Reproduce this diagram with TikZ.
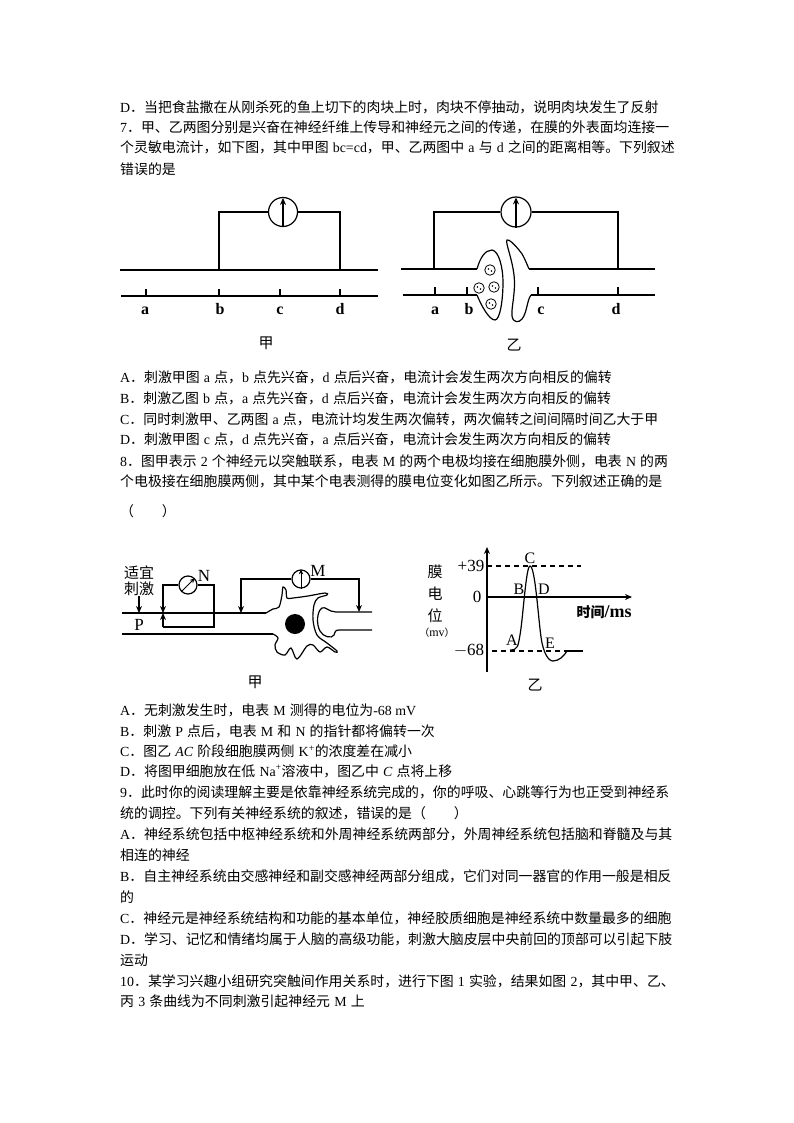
\documentclass[tikz,border=0pt]{standalone}
\usepackage{fontspec}
\setmainfont{Noto Sans CJK SC}
\newfontfamily\lat{Liberation Serif}
\newcommand{\la}[1]{{\lat #1}}
\newcommand{\sk}{\hspace{.3em}}
\usetikzlibrary{positioning,arrows.meta}

\begin{document}
\begin{tikzpicture}[
    x=1pt,y=-1pt,
    txtline/.style={anchor=west,inner sep=0pt,font=\fontsize{13.9}{14}\selectfont},
    lbl/.style={inner sep=0pt,font=\fontsize{15}{15}\selectfont},
    pt/.style={anchor=base,inner sep=0pt,font=\lat\bfseries\fontsize{16}{16}\selectfont},
    big/.style={inner sep=0pt,font=\lat\fontsize{17}{17}\selectfont},
    pnt/.style={inner sep=0pt,font=\lat\fontsize{16}{16}\selectfont},
    meter/.style={circle,draw,line width=1.2pt,inner sep=0pt,minimum size=#1},
    wire/.style={line width=1.2pt},
    axon/.style={line width=1.8pt},
    probe/.style={line width=1.2pt,-{Stealth[length=7pt,width=6pt]}},
    needle/.style={line width=.9pt,-{Stealth[length=5pt,width=4.5pt]}},
    refline/.style={line width=1.2pt,dash pattern=on 5pt off 4pt},
    vesicle/.style={circle,draw,line width=.8pt,minimum size=10.5pt,inner sep=0pt},
    grain/.style={circle,fill,inner sep=0pt,minimum size=1.8pt},
  ]
  \useasboundingbox (0,0) rectangle (794,1123);
  % the printed lines
  \foreach \y/\txt in {
      107/{\la{D}．当把食盐撒在从刚杀死的鱼上切下的肉块上时，肉块不停抽动，说明肉块发生了反射},
      127/{\la{7}．甲、乙两图分别是兴奋在神经纤维上传导和神经元之间的传递，在膜的外表面均连接一},
      147/{个灵敏电流计，如下图，其中甲图\sk\la{bc=cd}，甲、乙两图中\sk\la{a}\sk 与\sk\la{d}\sk 之间的距离相等。下列叙述},
      169/{错误的是},
      377/{\la{A}．刺激甲图\sk\la{a}\sk 点，\la{b}\sk 点先兴奋，\la{d}\sk 点后兴奋，电流计会发生两次方向相反的偏转},
      398/{\la{B}．刺激乙图\sk\la{b}\sk 点，\la{a}\sk 点先兴奋，\la{d}\sk 点后兴奋，电流计会发生两次方向相反的偏转},
      419/{\la{C}．同时刺激甲、乙两图\sk\la{a}\sk 点，电流计均发生两次偏转，两次偏转之间间隔时间乙大于甲},
      439/{\la{D}．刺激甲图\sk\la{c}\sk 点，\la{d}\sk 点先兴奋，\la{a}\sk 点后兴奋，电流计会发生两次方向相反的偏转},
      461/{\la{8}．图甲表示\sk\la{2}\sk 个神经元以突触联系，电表\sk\la{M}\sk 的两个电极均接在细胞膜外侧，电表\sk\la{N}\sk 的两},
      481/{个电极接在细胞膜两侧，其中某个电表测得的膜电位变化如图乙所示。下列叙述正确的是},
      511/{（\hspace{2em}）},
      710/{\la{A}．无刺激发生时，电表\sk\la{M}\sk 测得的电位为\la{-68 mV}},
      731/{\la{B}．刺激\sk\la{P}\sk 点后，电表\sk\la{M}\sk 和\sk\la{N}\sk 的指针都将偏转一次},
      751/{\la{C}．图乙\sk\la{\itshape AC}\sk 阶段细胞膜两侧\sk\la{K\textsuperscript{+}}的浓度差在减小},
      771/{\la{D}．将图甲细胞放在低\sk\la{Na\textsuperscript{+}}溶液中，图乙中\sk\la{\itshape C}\sk 点将上移},
      792/{\la{9}．此时你的阅读理解主要是依靠神经系统完成的，你的呼吸、心跳等行为也正受到神经系},
      813/{统的调控。下列有关神经系统的叙述，错误的是（\hspace{2em}）},
      834/{\la{A}．神经系统包括中枢神经系统和外周神经系统两部分，外周神经系统包括脑和脊髓及与其},
      855/{相连的神经},
      876/{\la{B}．自主神经系统由交感神经和副交感神经两部分组成，它们对同一器官的作用一般是相反},
      897/{的},
      918/{\la{C}．神经元是神经系统结构和功能的基本单位，神经胶质细胞是神经系统中数量最多的细胞},
      939/{\la{D}．学习、记忆和情绪均属于人脑的高级功能，刺激大脑皮层中央前回的顶部可以引起下肢},
      960/{运动},
      981/{\la{10}．某学习兴趣小组研究突触间作用关系时，进行下图\sk\la{1}\sk 实验，结果如图\sk\la{2}，其中甲、乙、},
      1001/{丙\sk\la{3}\sk 条曲线为不同刺激引起神经元\sk\la{M}\sk 上}}{
    \node[txtline] (line\y) at (120,\y) {\txt};
  }

  % first figure
  \node[meter=29pt] (g1) at (283,212) {};
  \coordinate (g1l) at (219,270);
  \coordinate (g1r) at (340,270);
  \coordinate (up1a) at (120,270);
  \coordinate (up1b) at (378,270);
  \coordinate (lo1a) at (121,296);
  \coordinate (lo1b) at (378,296);
  \draw[axon] (up1a) -- (up1b);
  \draw[wire] (lo1a) -- (lo1b);
  \draw[wire] (g1l) |- (g1.west);
  \draw[wire] (g1r) |- (g1.east);
  \draw[probe] (g1.south) -- ([yshift=-1pt]g1.north);
  \foreach \n/\x/\lx in {a/146/145,b/219/220,c/280/280,d/340/340}{
    \coordinate (t1\n) at (\x,296);
    \draw[wire] (t1\n) -- ++(0,-7);
    \node[pt] (n1\n) at (\lx,314) {\n};
  }
  \node[lbl] (cap1) at (266,343) {甲};

  % second figure
  \node[meter=30pt] (g2) at (516,212) {};
  \coordinate (g2l) at (434,269);
  \coordinate (g2r) at (618,269);
  \coordinate (up2a) at (401,269);
  \coordinate (up2b) at (477,269);
  \coordinate (up2c) at (529,269);
  \coordinate (up2d) at (655,269);
  \coordinate (lo2a) at (403,295);
  \coordinate (lo2b) at (477,295);
  \coordinate (lo2c) at (531,295);
  \coordinate (lo2d) at (655,295);
  \draw[axon] (up2a) -- (up2b);
  \draw[axon] (up2c) -- (up2d);
  \draw[wire] (lo2a) -- (lo2b);
  \draw[wire] (lo2c) -- (lo2d);
  \draw[wire] (g2l) |- (g2.west);
  \draw[wire] (g2r) |- (g2.east);
  \draw[probe] (g2.south) -- ([yshift=-1pt]g2.north);
  \draw[wire] (up2b) .. controls (480,258) and (485,250) .. (492,250)
    .. controls (499,251) and (503,268) .. (503,282)
    .. controls (503,300) and (500,320) .. (495,320)
    .. controls (489,320) and (481,305) .. (lo2b);
  \draw[wire] (up2c) .. controls (526,262) and (523,254) .. (519,250)
    .. controls (514,244) and (509,239) .. (507,240)
    .. controls (505,242) and (512,258) .. (514,275)
    .. controls (516,292) and (511,308) .. (512,316)
    .. controls (513,323) and (519,323) .. (522,319)
    .. controls (527,313) and (527,300) .. (lo2c);
  \foreach \n/\x/\y in {1/490/270,2/494/287,3/479/288,4/491/304}{
    \node[vesicle] (ves\n) at (\x,\y) {};
    \node[grain] (gr\n a) at (\x-1.5,\y-1) {};
    \node[grain] (gr\n b) at (\x+1.5,\y+1) {};
  }
  \foreach \n/\x/\lx in {a/435/435,b/467/469,c/538/541,d/618/616}{
    \coordinate (t2\n) at (\x,295);
    \draw[wire] (t2\n) -- ++(0,-8);
    \node[pt] (n2\n) at (\lx,314) {\n};
  }
  \node[lbl] (cap2) at (514,345) {乙};

  % neuron figure
  \node[meter=18pt] (gn) at (188,585) {};
  \node[meter=18pt] (gm) at (301,579) {};
  \node[big] (ln) at (204,576) {N};
  \node[big] (lm) at (318,571) {M};
  \draw[needle] (gn.south west) -- (gn.north east);
  \draw[needle] (gm.south) -- (gm.north);
  \coordinate (up3a) at (122,613);
  \coordinate (up3b) at (266,613);
  \coordinate (lo3a) at (122,634);
  \coordinate (lo3b) at (273,634);
  \coordinate (pn1) at (163,613);
  \coordinate (pn2) at (163,613);
  \coordinate (pm1) at (241,613);
  \coordinate (pm2) at (359,612);
  \coordinate (pst) at (139,613);
  \coordinate (bnr) at (214,627);
  \coordinate (bnl) at (163,627);
  \draw[wire] (up3a) -- (up3b);
  \draw[axon] (lo3a) -- (lo3b);
  \draw[probe] (gn.west) -| (pn1);
  \draw[wire] (gn.east) -| (bnr) -- (bnl);
  \draw[probe] (bnl) -- (pn2);
  \draw[probe] (gm.west) -| (pm1);
  \draw[probe] (gm.east) -| (pm2);
  \node[lbl] (st1) at (139,573) {适宜};
  \node[lbl] (st2) at (139,589) {刺激};
  \draw[probe] (st2.south) -- (pst);
  \node[big] (lp) at (139,625) {P};
  % cell body
  \draw[wire] plot[smooth,tension=.55] coordinates {(up3b) (273,609) (279,607) (282,595) (283,587) (286,590) (287,598) (293,598) (308,596) (325,593) (327,595) (318,598) (314,605) (313,620) (317,635) (327,643) (337,651) (335,652) (327,647) (320,652) (313,645) (307,646) (297,659) (291,648) (285,655) (277,652) (275,645) (278,638) (lo3b)};
  \node[circle,fill=black,inner sep=0pt,minimum size=20pt] (nucleus) at (295,624) {};
  % next cell
  \coordinate (den1) at (372,612);
  \coordinate (den2) at (372,630);
  \draw[wire] (den1) -- (336,612) .. controls (329,612) and (325,606) .. (322,608)
    .. controls (317,611) and (316,624) .. (320,631)
    .. controls (323,637) and (332,639) .. (334,635)
    .. controls (335,632) and (335,630) .. (339,630) -- (den2);
  \node[lbl] (cap3) at (255,682) {甲};

  % potential figure
  \coordinate (o) at (487,672);
  \coordinate (ytop) at (487,547);
  \coordinate (x0) at (487,597);
  \coordinate (xend) at (632,597);
  \coordinate (c39) at (487,566);
  \coordinate (c39r) at (581,566);
  \coordinate (m68) at (492,651);
  \coordinate (m68s) at (567,651);
  \coordinate (m68r) at (583,651);
  \draw[probe] (o) -- (ytop);
  \draw[probe] (x0) -- (xend);
  \draw[refline] (c39) -- (c39r);
  \draw[refline] (m68) -- (m68s);
  \draw[wire] (m68s) -- (m68r);
  \draw[wire] (510,650) .. controls (518,650) and (518,646) .. (520,635)
    .. controls (523,618) and (526,566) .. (530,566)
    .. controls (535,566) and (538,615) .. (541,637)
    .. controls (543,652) and (548,661) .. (553,661)
    .. controls (559,661) and (564,656) .. (m68s);
  \node[big] (t39) at (471,566) {+39};
  \node[big] (t0) at (477,597) {0};
  \node[big] (t68) at (469,651) {$-$68};
  \node[lbl] (ym1) at (435,572) {膜};
  \node[lbl] (ym2) at (435,594) {电};
  \node[lbl] (ym3) at (435,616) {位};
  \node[inner sep=0pt,font=\fontsize{10}{10}\selectfont] (ym4) at (437,633) {（\la{\fontsize{12}{12}\selectfont mv}）};
  \node[pnt] (pc) at (530,558) {C};
  \node[pnt] (pb) at (519,589) {B};
  \node[pnt] (pd) at (544,589) {D};
  \node[pnt] (pa) at (512,640) {A};
  \node[pnt] (pe) at (550,643) {E};
  \node[inner sep=0pt,font=\bfseries\fontsize{14}{14}\selectfont] (tm) at (604,612) {时间\la{\bfseries\fontsize{18}{18}\selectfont /ms}};
  \node[lbl] (cap4) at (535,685) {乙};
\end{tikzpicture}
\end{document}
